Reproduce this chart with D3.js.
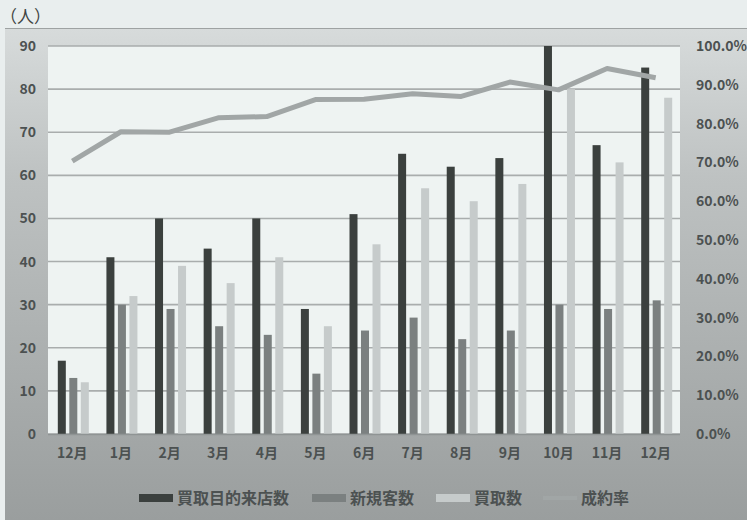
<!DOCTYPE html>
<html><head><meta charset="utf-8">
<script src="https://cdn.jsdelivr.net/npm/d3@7"></script>
<style>
html,body{margin:0;padding:0;background:#e9eeee;}
svg{display:block;}
text{font-family:"Noto Sans CJK JP","Noto Sans",sans-serif;}
</style></head>
<body>
<script>
const months = ["12月","1月","2月","3月","4月","5月","6月","7月","8月","9月","10月","11月","12月"];
const seriesNames = ["買取目的来店数","新規客数","買取数"];
const visitors = [17,41,50,43,50,29,51,65,62,64,90,67,85];
const newCustomers = [13,30,29,25,23,14,24,27,22,24,30,29,31];
const purchases = [12,32,39,35,41,25,44,57,54,58,80,63,78];
const contractRate = [70.3,77.9,77.8,81.5,81.8,86.2,86.3,87.7,87.0,90.7,88.7,94.2,91.8];
const leftTicks = [0,10,20,30,40,50,60,70,80,90];
const rightTicks = [0,10,20,30,40,50,60,70,80,90,100];
const lineName = "成約率";

const W = 747, H = 520;
const plot = {l:48, r:680, t:46, b:434};
const barColors = ["#3b403e","#7b8080","#c6cbcb"];
const lineColor = "#a1a6a6";
const textColor = "#4c5151";

const svg = d3.select("body").append("svg").attr("width",W).attr("height",H);
const defs = svg.append("defs");
const g1 = defs.append("linearGradient").attr("id","panelGrad").attr("x1",0).attr("y1",0).attr("x2",0).attr("y2",1);
g1.append("stop").attr("offset","0%").attr("stop-color","#d7dbdb");
g1.append("stop").attr("offset","30%").attr("stop-color","#bec2c2");
g1.append("stop").attr("offset","100%").attr("stop-color","#9a9e9e");

svg.append("rect").attr("x",0).attr("y",0).attr("width",W).attr("height",H).attr("fill","#e9eeee");
svg.append("rect").attr("x",5).attr("y",28).attr("width",W-5).attr("height",H-28).attr("fill","url(#panelGrad)");
svg.append("line").attr("x1",5).attr("x2",W).attr("y1",28.5).attr("y2",28.5).attr("stroke","#9ea2a2").attr("stroke-width",1.2);
svg.append("rect").attr("x",plot.l).attr("y",plot.t).attr("width",plot.r-plot.l).attr("height",plot.b-plot.t).attr("fill","#eef3f2");

const x0 = d3.scaleBand().domain(d3.range(months.length)).range([plot.l, plot.r]).paddingInner(0).paddingOuter(0);
const x1 = d3.scaleBand().domain(seriesNames).range([-14.5, 16.5]).paddingInner(0.304).paddingOuter(0);
const yL = d3.scaleLinear().domain([0,90]).range([plot.b, plot.t]);
const yR = d3.scaleLinear().domain([0,100]).range([plot.b, plot.t]);

// gridlines
svg.append("g").selectAll("line").data(leftTicks).join("line")
  .attr("x1",plot.l).attr("x2",plot.r)
  .attr("y1",d=>yL(d)).attr("y2",d=>yL(d))
  .attr("stroke","#a9adad").attr("stroke-width",1.6);

// bars
const seriesData = [visitors,newCustomers,purchases];
seriesData.forEach((vals,si)=>{
  svg.append("g").selectAll("rect").data(vals).join("rect")
    .attr("x",(d,i)=>x0(i)+x0.bandwidth()/2+x1(seriesNames[si]))
    .attr("width",x1.bandwidth())
    .attr("y",d=>yL(d))
    .attr("height",d=>plot.b-yL(d))
    .attr("fill",barColors[si]);
});

// bottom axis line
svg.append("line").attr("x1",plot.l).attr("x2",plot.r).attr("y1",plot.b+0.5).attr("y2",plot.b+0.5)
  .attr("stroke","#8f9494").attr("stroke-width",1.5);

// line
const line = d3.line().x((d,i)=>x0(i)+x0.bandwidth()/2).y(d=>yR(d));
svg.append("path").datum(contractRate).attr("d",line)
  .attr("fill","none").attr("stroke",lineColor).attr("stroke-width",5).attr("stroke-linejoin","round");

// axes
const axL = svg.append("g").attr("transform",`translate(${plot.l},0)`)
  .call(d3.axisLeft(yL).tickValues(leftTicks).tickSize(0).tickPadding(12).tickFormat(d3.format("d")));
const axR = svg.append("g").attr("transform",`translate(${plot.r},0)`)
  .call(d3.axisRight(yR).tickValues(rightTicks).tickSize(0).tickPadding(16).tickFormat(d=>d.toFixed(1)+"%"));
const axB = svg.append("g").attr("transform",`translate(0,${plot.b})`)
  .call(d3.axisBottom(x0).tickSize(0).tickPadding(14).tickFormat(i=>months[i]));
[axL,axR,axB].forEach(a=>{
  a.select(".domain").remove();
  a.selectAll("text").attr("fill",textColor).attr("font-size",14).attr("font-weight","bold")
    .attr("font-family",'"Noto Sans CJK JP","Noto Sans",sans-serif');
});

// unit label
svg.append("text").attr("x",0).attr("y",23).text("（人）")
  .attr("font-size",17).attr("fill","#3f4444");

// legend
const legendItems = [
  {name:seriesNames[0], color:barColors[0], x:139, type:"bar"},
  {name:seriesNames[1], color:barColors[1], x:312, type:"bar"},
  {name:seriesNames[2], color:barColors[2], x:436, type:"bar"},
  {name:lineName, color:lineColor, x:543, type:"line"}
];
const lg = svg.append("g");
legendItems.forEach(it=>{
  if(it.type==="bar"){
    lg.append("rect").attr("x",it.x).attr("y",494).attr("width",34).attr("height",8).attr("fill",it.color);
  } else {
    lg.append("line").attr("x1",it.x).attr("x2",it.x+34).attr("y1",498).attr("y2",498)
      .attr("stroke",it.color).attr("stroke-width",4);
  }
  lg.append("text").attr("x",it.x+38).attr("y",504).text(it.name)
    .attr("font-size",16).attr("font-weight","bold").attr("fill",textColor);
});
</script>
</body></html>
